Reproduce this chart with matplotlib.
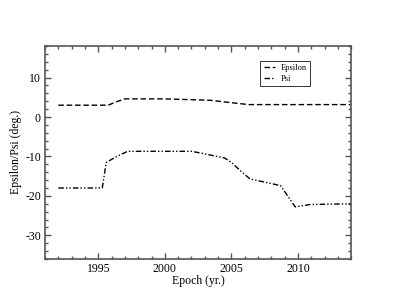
import matplotlib
matplotlib.use("Agg")
import matplotlib.pyplot as plt
from matplotlib.ticker import MultipleLocator

# data (epoch in years, angles in degrees)
eps_years = [1992.0, 1995.75, 1996.3, 1997.0, 2000.0, 2003.4, 2006.3, 2014.0]
eps_values = [3.0, 3.0, 3.8, 4.6, 4.6, 4.25, 3.15, 3.15]

psi_years = [1992.0, 1995.3, 1995.6, 1996.4, 1997.2, 2002.0, 2002.65, 2004.5,
             2005.0, 2005.8, 2006.4, 2008.7, 2009.8, 2010.9, 2014.0]
psi_values = [-18.0, -18.0, -11.5, -10.0, -8.7, -8.7, -9.1, -10.4,
              -11.5, -14.0, -15.7, -17.4, -22.8, -22.2, -22.0]

x_label = "Epoch (yr.)"
y_label = "Epsilon/Psi (deg.)"

plt.rcParams["font.family"] = ["Liberation Serif", "DejaVu Serif"]
plt.rcParams["axes.unicode_minus"] = False

fig = plt.figure(figsize=(3.95, 3.05), dpi=100)
ax = fig.add_axes([0.114, 0.151, 0.775, 0.698])

ax.plot(eps_years, eps_values, color="black", lw=1.0,
        dashes=(4, 2), label="Epsilon")
ax.plot(psi_years, psi_values, color="black", lw=1.0,
        dashes=(4, 1.5, 1, 1.5, 1, 1.5), label="Psi")

ax.set_xlim(1991, 2014)
ax.set_ylim(-36, 18)
ax.xaxis.set_major_locator(MultipleLocator(5))
ax.xaxis.set_minor_locator(MultipleLocator(1))
ax.yaxis.set_major_locator(MultipleLocator(10))
ax.yaxis.set_minor_locator(MultipleLocator(2))
ax.tick_params(which="both", direction="in", top=True, right=True,
               labelsize=8.5, color="#555555", pad=3)
ax.tick_params(which="major", length=4.5, width=1)
ax.tick_params(which="minor", length=2.5, width=1)
for sp in ax.spines.values():
    sp.set_color("#555555")
    sp.set_linewidth(1.2)

ax.set_xlabel(x_label, fontsize=8.5, labelpad=0)
ax.set_ylabel(y_label, fontsize=8.5, labelpad=2)

leg = ax.legend(loc="upper left", bbox_to_anchor=(0.69, 0.95), fontsize=6,
                frameon=True, fancybox=False, handlelength=1.4,
                handletextpad=0.6, borderpad=0.4, labelspacing=0.3)
leg.get_frame().set_edgecolor("black")
leg.get_frame().set_linewidth(0.7)

fig.savefig("out.png", dpi=100)
